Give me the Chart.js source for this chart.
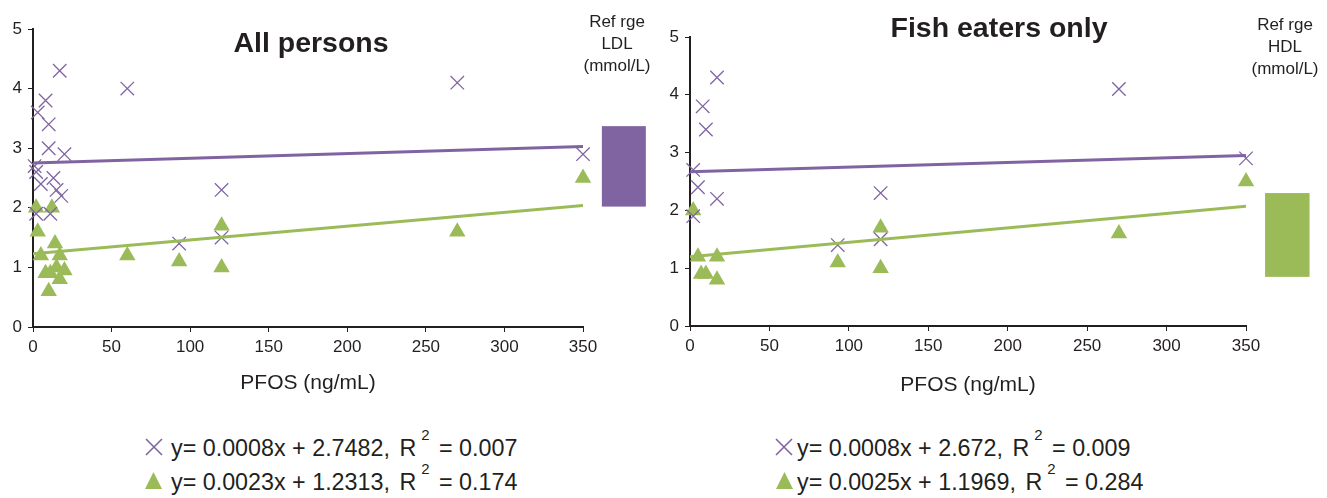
<!DOCTYPE html>
<html>
<head>
<meta charset="utf-8">
<script src="https://cdn.jsdelivr.net/npm/chart.js@4.4.1/dist/chart.umd.min.js"></script>
<style>
body { margin: 0; background: #fff; font-family: "Liberation Sans", Arial, sans-serif; color: #231f20; }
#wrap { position: relative; width: 1327px; height: 498px; overflow: hidden; }
canvas { position: absolute; top: 0; }
.title { position: absolute; width: 340px; text-align: center; font-weight: bold; font-size: 28.5px; line-height: 32px; }
.ref { position: absolute; width: 110px; text-align: center; font-size: 17px; line-height: 22px; }
.leg { position: absolute; font-size: 23.3px; line-height: 26px; white-space: nowrap; }
.leg sup { font-size: 15px; position: relative; top: -7px; margin-left: 5px; margin-right: 3px; }
.leg .gap { margin-left: 3px; }
.mk { position: absolute; }
</style>
</head>
<body>
<div id="wrap">
  <canvas id="allChart" width="663" height="420" style="left:0"></canvas>
  <canvas id="fishChart" width="664" height="420" style="left:663px"></canvas>

  <div class="title" style="left:141px;top:26px">All persons</div>
  <div class="title" style="left:829px;top:11px">Fish eaters only</div>

  <div class="ref" style="left:562px;top:11px">Ref rge<br>LDL<br>(mmol/L)</div>
  <div class="ref" style="left:1230px;top:14px">Ref rge<br>HDL<br>(mmol/L)</div>

  <svg class="mk" style="left:144px;top:437px" width="20" height="20"><path d="M2 2 L18 18 M18 2 L2 18" stroke="#8064A2" stroke-width="1.6"/></svg>
  <span class="leg" style="left:171px;top:429px">y= 0.0008x + 2.7482, <span class="gap">R</span><sup>2</sup> = 0.007</span>
  <svg class="mk" style="left:144px;top:471px" width="19" height="19"><path d="M9.5 1 L18 18 L1 18 Z" fill="#9BBB59"/></svg>
  <span class="leg" style="left:171px;top:463px">y= 0.0023x + 1.2313, <span class="gap">R</span><sup>2</sup> = 0.174</span>

  <svg class="mk" style="left:774px;top:437px" width="20" height="20"><path d="M2 2 L18 18 M18 2 L2 18" stroke="#8064A2" stroke-width="1.6"/></svg>
  <span class="leg" style="left:797px;top:429px">y= 0.0008x + 2.672, <span class="gap">R</span><sup>2</sup> = 0.009</span>
  <svg class="mk" style="left:775px;top:471px" width="19" height="19"><path d="M9.5 1 L18 18 L1 18 Z" fill="#9BBB59"/></svg>
  <span class="leg" style="left:797px;top:463px">y= 0.0025x + 1.1969, <span class="gap">R</span><sup>2</sup> = 0.284</span>
</div>

<script>
/******************************************************************
DATA
******************************************************************/

// All persons - LDL (purple crosses)
var allLdlX = [1, 2, 3, 5, 8, 10, 10, 13, 15, 17, 18, 20, 2, 11, 60, 93, 120, 120, 270, 350];
var allLdlY = [2.7, 2.6, 3.6, 2.4, 3.8, 3.4, 3.0, 2.5, 2.3, 4.3, 2.2, 2.9, 1.9, 1.9, 4.0, 1.4, 2.3, 1.5, 4.1, 2.9];

// All persons - HDL (green triangles)
var allHdlX = [2, 12, 3, 14, 5, 17, 15, 20, 8, 11, 17, 10, 60, 93, 120, 120, 270, 350];
var allHdlY = [2.0, 2.0, 1.6, 1.4, 1.2, 1.2, 1.0, 0.95, 0.9, 0.9, 0.8, 0.6, 1.2, 1.1, 1.7, 1.0, 1.6, 2.5];

// Fish eaters only - LDL
var fishLdlX = [17, 8, 10, 2, 5, 17, 2, 93, 120, 120, 270, 350];
var fishLdlY = [4.3, 3.8, 3.4, 2.7, 2.4, 2.2, 1.9, 1.4, 2.3, 1.5, 4.1, 2.9];

// Fish eaters only - HDL
var fishHdlX = [2, 5, 17, 7, 10, 17, 93, 120, 120, 270, 350];
var fishHdlY = [2.0, 1.2, 1.2, 0.9, 0.9, 0.8, 1.1, 1.7, 1.0, 1.6, 2.5];

// trend lines, ends read at x = 0 and x = 350
var trendX = [0, 350];
var allLdlTrend = [2.75, 3.03];
var allHdlTrend = [1.23, 2.04];
var fishLdlTrend = [2.67, 2.95];
var fishHdlTrend = [1.20, 2.07];

// reference ranges (mmol/L)
var refLdl = [2.02, 3.37];
var refHdl = [0.85, 2.3];

var xTicks = [0, 350];
var yTicks = [0, 5];

/******************************************************************
HELPERS
******************************************************************/

var purple = '#8064A2';
var green = '#9BBB59';
var ink = '#231f20';

function pts(xs, ys) {
  return xs.map(function (x, i) { return { x: x, y: ys[i] }; });
}

// draws the reference range bar to the right of the plot, through the chart's scales
var refBoxPlugin = {
  id: 'refBox',
  afterDatasetsDraw: function (chart, args, opts) {
    var ctx = chart.ctx;
    var xs = chart.scales.x, ys = chart.scales.y;
    var left = xs.getPixelForValue(opts.from);
    var right = xs.getPixelForValue(opts.to);
    var top = ys.getPixelForValue(opts.range[1]);
    var bottom = ys.getPixelForValue(opts.range[0]);
    ctx.save();
    ctx.fillStyle = opts.color;
    ctx.fillRect(left, top, right - left, bottom - top);
    ctx.restore();
  }
};

function createChart(id, ldlX, ldlY, hdlX, hdlY, ldlTrend, hdlTrend, ref, refColor, geo) {
  var ctx = document.getElementById(id).getContext('2d');
  return new Chart(ctx, {
    type: 'scatter',
    data: {
      datasets: [{
        type: 'line',
        data: pts(trendX, ldlTrend),
        borderColor: purple,
        borderWidth: 3,
        pointRadius: 0,
        fill: false
      }, {
        type: 'line',
        data: pts(trendX, hdlTrend),
        borderColor: green,
        borderWidth: 3,
        pointRadius: 0,
        fill: false
      }, {
        data: pts(ldlX, ldlY),
        pointStyle: 'crossRot',
        pointRadius: 9.5,
        borderColor: purple,
        borderWidth: 1.3,
        clip: false
      }, {
        data: pts(hdlX, hdlY),
        pointStyle: 'triangle',
        pointRadius: 9.5,
        backgroundColor: green,
        borderColor: green,
        borderWidth: 0,
        clip: false
      }]
    },
    options: {
      responsive: false,
      animation: false,
      layout: { padding: { top: geo.top, right: geo.right, left: 0, bottom: 0 } },
      plugins: {
        legend: { display: false },
        tooltip: { enabled: false },
        refBox: { range: ref, color: refColor, from: 362, to: 390 }
      },
      scales: {
        x: {
          type: 'linear',
          min: xTicks[0],
          max: xTicks[1],
          ticks: { stepSize: 50, color: ink, padding: 5, font: { size: 17, family: 'Liberation Sans' } },
          grid: { drawOnChartArea: false, tickLength: 5, color: ink, lineWidth: 1 },
          border: { color: ink, width: 2 },
          title: {
            display: true,
            text: 'PFOS (ng/mL)',
            color: ink,
            font: { size: 21, family: 'Liberation Sans' },
            padding: { top: 4, bottom: geo.titleBottom }
          },
          afterFit: function (scale) { scale.height = geo.xHeight; }
        },
        y: {
          type: 'linear',
          min: yTicks[0],
          max: yTicks[1],
          ticks: { stepSize: 1, color: ink, padding: 6, font: { size: 17, family: 'Liberation Sans' } },
          grid: { drawOnChartArea: false, tickLength: 5, color: ink, lineWidth: 1 },
          border: { color: ink, width: 2 },
          afterFit: function (scale) { scale.width = geo.yWidth; }
        }
      }
    },
    plugins: [refBoxPlugin]
  });
}; // END CREATECHART FUNCTION

createChart('allChart', allLdlX, allLdlY, allHdlX, allHdlY, allLdlTrend, allHdlTrend, refLdl, purple,
  { top: 29, right: 80, xHeight: 93, yWidth: 33, titleBottom: 24 });

createChart('fishChart', fishLdlX, fishLdlY, fishHdlX, fishHdlY, fishLdlTrend, fishHdlTrend, refHdl, green,
  { top: 37, right: 81, xHeight: 94, yWidth: 27, titleBottom: 22 });
</script>
</body>
</html>
